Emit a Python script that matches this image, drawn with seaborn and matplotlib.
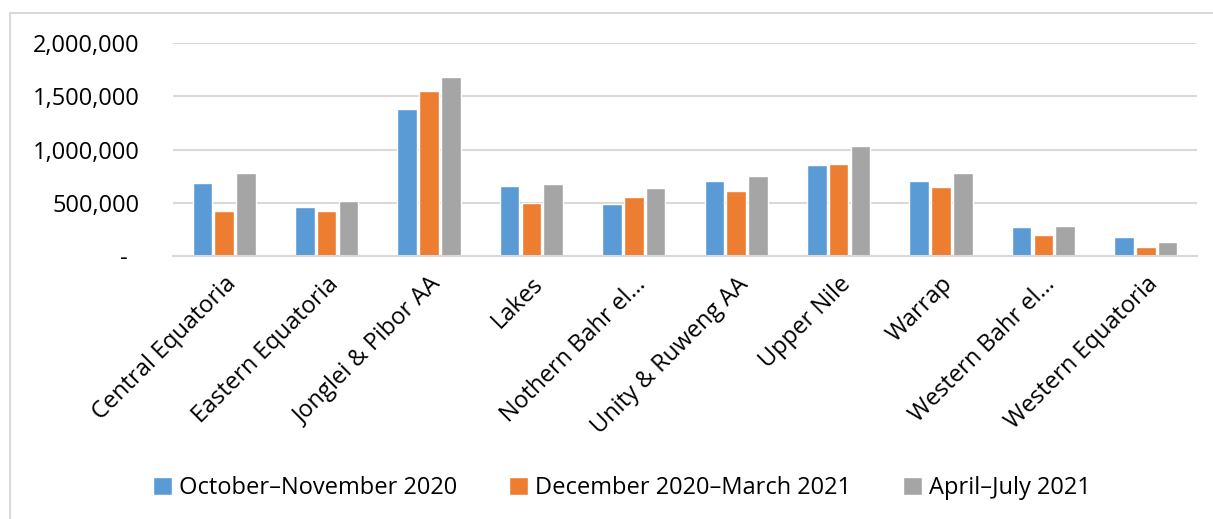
import pandas as pd
import matplotlib.pyplot as plt
import seaborn as sns
from matplotlib.patches import Rectangle
from matplotlib.ticker import FuncFormatter

# ================== data ==================
regions = [
    "Central Equatoria", "Eastern Equatoria", "Jonglei & Pibor AA", "Lakes",
    "Nothern Bahr el…", "Unity & Ruweng AA", "Upper Nile", "Warrap",
    "Western Bahr el…", "Western Equatoria",
]
periods = ["October–November 2020", "December 2020–March 2021", "April–July 2021"]
oct_nov_2020 = [687000, 458000, 1384000, 659000, 484000, 706000, 851000, 700000, 270000, 176000]
dec_mar_2021 = [421000, 421000, 1551000, 499000, 553000, 609000, 861000, 650000, 195000, 85000]
apr_jul_2021 = [781000, 512000, 1683000, 678000, 637000, 753000, 1036000, 779000, 282000, 126000]
y_ticks = [0, 500000, 1000000, 1500000, 2000000]
# ==========================================

colors = ["#5B9BD5", "#ED7D31", "#A5A5A5"]

df = pd.DataFrame({"Region": regions * 3,
                   "Period": [p for p in periods for _ in regions],
                   "Value": oct_nov_2020 + dec_mar_2021 + apr_jul_2021})

sns.set_theme(style="white")
plt.rcParams["font.family"] = ["Open Sans", "DejaVu Sans"]

fig = plt.figure(figsize=(12.13, 5.19), dpi=100)
ax = fig.add_axes([173 / 1213, 1 - 255.7 / 519, 1024 / 1213, 212.4 / 519])

sns.barplot(data=df, x="Region", y="Value", hue="Period", palette=colors,
            saturation=1, width=0.64, gap=0.1, ax=ax, legend=True)

ax.set_ylim(0, 2000000)
ax.set_yticks(y_ticks)
ax.yaxis.set_major_formatter(FuncFormatter(lambda v, p: "-  " if v == 0 else f"{int(v):,}"))
ax.grid(axis="y", color="#D9D9D9", linewidth=1.5)
ax.set_axisbelow(True)
for s in ["top", "right", "left"]:
    ax.spines[s].set_visible(False)
ax.spines["bottom"].set_color("#D9D9D9")
ax.spines["bottom"].set_linewidth(1.5)
ax.set_xlim(-0.5, len(regions) - 0.5)
ax.set_xlabel("")
ax.set_ylabel("")
ax.tick_params(axis="y", labelsize=17, pad=24, length=0, labelcolor="#000000")
ax.tick_params(axis="x", labelsize=17, pad=12, length=0, labelcolor="#000000")
plt.setp(ax.get_xticklabels(), rotation=45, ha="right", rotation_mode="anchor")

handles, labels = ax.get_legend_handles_labels()
ax.legend_.remove()
leg = fig.legend(handles, labels, loc="center", bbox_to_anchor=(0.513, 1 - 488 / 519),
                 ncol=3, frameon=False, fontsize=17, handlelength=0.8, handleheight=0.8,
                 handletextpad=0.3, columnspacing=2.2)
for t in leg.get_texts():
    t.set_color("#000000")

# outer chart frame
fig.patches.append(Rectangle((10 / 1213, -0.1), 1.2, 1.1 - 13 / 519,
                             transform=fig.transFigure, fill=False,
                             edgecolor="#D9D9D9", linewidth=1.5))

plt.savefig("out.png", dpi=100)
